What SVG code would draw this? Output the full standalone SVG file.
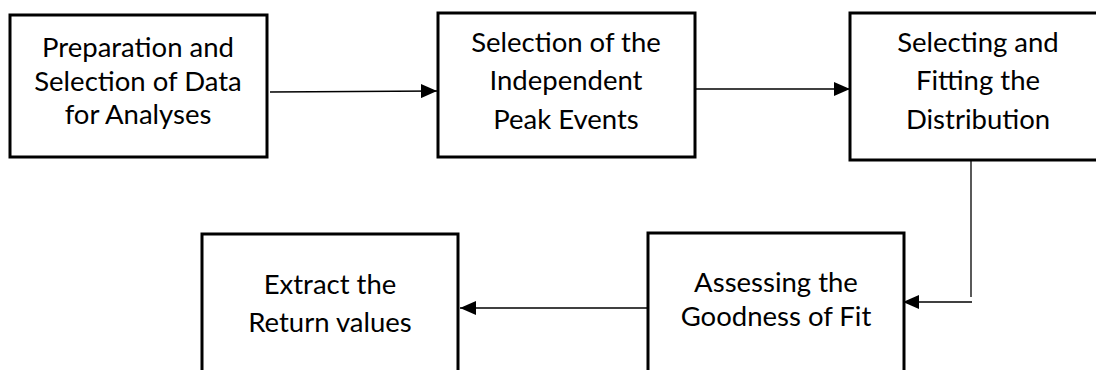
<svg xmlns="http://www.w3.org/2000/svg" width="1096" height="370" viewBox="0 0 1096 370">
<defs>
<style>
.box{fill:#fff;stroke:#000;stroke-width:3}
.lbl{font-family:Lato,"Open Sans",sans-serif;font-size:27.5px;fill:#000;text-anchor:middle}
.conn{fill:none;stroke:#000;stroke-width:1.3}
</style>
<marker id="ah" viewBox="0 0 16 14" refX="16" refY="7" markerWidth="16" markerHeight="14" markerUnits="userSpaceOnUse" orient="auto">
<path d="M0,0 L16,7 L0,14 Z" fill="#000"/>
</marker>
</defs>
<rect width="1096" height="370" fill="#fff"/>
<g id="connectors">
<path class="conn" d="M270,92 L437,91" marker-end="url(#ah)"/>
<path class="conn" d="M696,89 L850,89" marker-end="url(#ah)"/>
<path class="conn" d="M971,160 L971,297"/>
<path class="conn" d="M972,302 L903,302" marker-end="url(#ah)"/>
<path class="conn" d="M647,308 L460,308" marker-end="url(#ah)"/>
</g>
<g id="n1">
<rect class="box" x="10" y="15" width="257" height="142"/>
<text class="lbl" x="138" y="57">Preparation and</text>
<text class="lbl" x="138" y="91">Selection of Data</text>
<text class="lbl" x="138" y="124">for Analyses</text>
</g>
<g id="n2">
<rect class="box" x="438" y="13" width="257" height="144"/>
<text class="lbl" x="566" y="52">Selection of the</text>
<text class="lbl" x="566" y="90">Independent</text>
<text class="lbl" x="566" y="129">Peak Events</text>
</g>
<g id="n3">
<rect class="box" x="850" y="13" width="256" height="147"/>
<text class="lbl" x="978" y="52">Selecting and</text>
<text class="lbl" x="978" y="90">Fitting the</text>
<text class="lbl" x="978" y="129">Distribution</text>
</g>
<g id="n4">
<rect class="box" x="648" y="233" width="256" height="180"/>
<text class="lbl" x="776" y="292">Assessing the</text>
<text class="lbl" x="776" y="326">Goodness of Fit</text>
</g>
<g id="n5">
<rect class="box" x="202" y="234" width="256" height="180"/>
<text class="lbl" x="330" y="294">Extract the</text>
<text class="lbl" x="330" y="332">Return values</text>
</g>
</svg>
